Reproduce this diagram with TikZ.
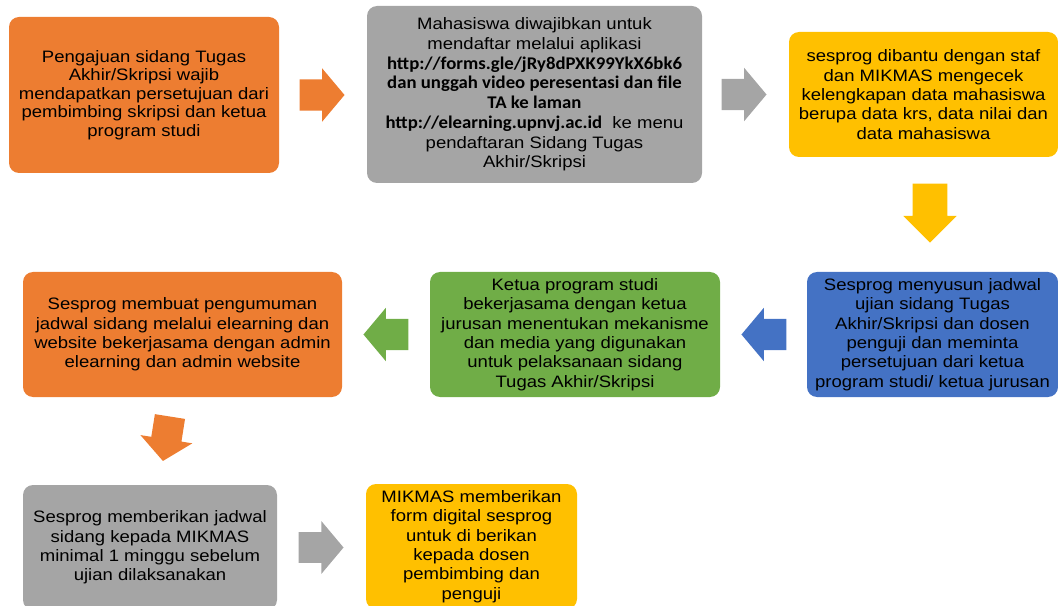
\documentclass[tikz,border=0pt]{standalone}
\usepackage{fontspec}
\setmainfont{Liberation Sans}[FakeStretch=1.12]
\newfontfamily\calfont{Carlito}[FakeStretch=1.05]
\definecolor{steporange}{RGB}{237, 125, 49}
\definecolor{stepgray}{RGB}{165, 165, 165}
\definecolor{stepgold}{RGB}{255, 192, 0}
\definecolor{stepblue}{RGB}{68, 114, 196}
\definecolor{stepgreen}{RGB}{112, 173, 71}
\usetikzlibrary{shapes, calc}
\newcommand{\linkbold}[1]{{\fontsize{13.4}{14.5}\calfont\bfseries #1}}

\begin{document}
\begin{tikzpicture}[
  x=0.75pt, y=-0.75pt,
  stepbox/.style={rounded corners=7.5pt, align=center, inner sep=0pt, minimum height=93.75pt, font=\fontsize{12.4}{14.5}\selectfont},
  blockarrow/.style={single arrow, single arrow tip angle=100, single arrow head extend=8.25pt, inner xsep=0pt, inner ysep=11.6pt, minimum height=33.75pt, anchor=tail}
]
  \useasboundingbox (0, 0) rectangle (1058, 606);

  % first row
  \node[stepbox, fill=steporange, minimum width=202.5pt, minimum height=117pt, font=\fontsize{12.4}{13.9}\selectfont] (s1) at (144, 95) {
    Pengajuan sidang Tugas\\
    Akhir/Skripsi wajib\\
    mendapatkan persetujuan dari\\
    pembimbing skripsi dan ketua\\
    program studi
  };
  \node[stepbox, fill=stepgray, minimum width=251.25pt, minimum height=132.75pt, font=\fontsize{12.4}{14.8}\selectfont] (s2) at (534.5, 94.5) {
    Mahasiswa diwajibkan untuk\\
    mendaftar melalui aplikasi\\
    \linkbold{http://forms.gle/jRy8dPXK99YkX6bk6}\\
    \linkbold{dan unggah video peresentasi dan file}\\
    \linkbold{TA ke laman}\\
    \linkbold{http://elearning.upnvj.ac.id}\ \ ke menu\\
    pendaftaran Sidang Tugas\\
    Akhir/Skripsi
  };
  \node[stepbox, fill=stepgold, minimum width=201.75pt] (s3) at (923.5, 94.5) {
    sesprog dibantu dengan staf\\
    dan MIKMAS mengecek\\
    kelengkapan data mahasiswa\\
    berupa data krs, data nilai dan\\
    data mahasiswa
  };

  % second row
  \node[stepbox, fill=stepblue, minimum width=188.25pt] (s4) at (932.5, 334.5) {
    Sesprog menyusun jadwal\\
    ujian sidang Tugas\\
    Akhir/Skripsi dan dosen\\
    penguji dan meminta\\
    persetujuan dari ketua\\
    program studi/ ketua jurusan
  };
  \node[stepbox, fill=stepgreen, minimum width=217.5pt] (s5) at (575, 334.5) {
    Ketua program studi\\
    bekerjasama dengan ketua\\
    jurusan menentukan mekanisme\\
    dan media yang digunakan\\
    untuk pelaksanaan sidang\\
    Tugas Akhir/Skripsi
  };
  \node[stepbox, fill=steporange, minimum width=239.25pt] (s6) at (182.5, 334.5) {
    Sesprog membuat pengumuman\\
    jadwal sidang melalui elearning dan\\
    website bekerjasama dengan admin\\
    elearning dan admin website
  };

  % third row
  \node[stepbox, fill=stepgray, minimum width=190.5pt] (s7) at (150, 547.5) {
    Sesprog memberikan jadwal\\
    sidang kepada MIKMAS\\
    minimal 1 minggu sebelum\\
    ujian dilaksanakan
  };
  \node[stepbox, fill=stepgold, minimum width=158.25pt] (s8) at (471.5, 546.5) {
    MIKMAS memberikan\\
    form digital sesprog\\
    untuk di berikan\\
    kepada dosen\\
    pembimbing dan\\
    penguji
  };

  % block arrows
  \node[blockarrow, fill=steporange] (a1) at ($(s1.east)+(20, 0)$) {};
  \node[blockarrow, fill=stepgray] (a2) at ($(s2.east)+(19, 0)$) {};
  \node[blockarrow, fill=stepgold, rotate=-90, single arrow tip angle=90, single arrow head extend=7.1pt, inner ysep=12.75pt, minimum height=44.25pt] (a3) at ($(s3.south)+(6.5, 26)$) {};
  \node[blockarrow, fill=stepblue, rotate=180] (a4) at ($(s4.west)+(-20, 0)$) {};
  \node[blockarrow, fill=stepgreen, rotate=180] (a5) at ($(s5.west)+(-21, 0)$) {};
  \node[blockarrow, fill=steporange, rotate=-99, inner ysep=11.25pt] (a6) at ($(s6.south)+(-12.5, 19)$) {};
  \node[blockarrow, fill=stepgray, inner ysep=11.25pt] (a7) at ($(s7.east)+(21, 0)$) {};
\end{tikzpicture}
\end{document}
